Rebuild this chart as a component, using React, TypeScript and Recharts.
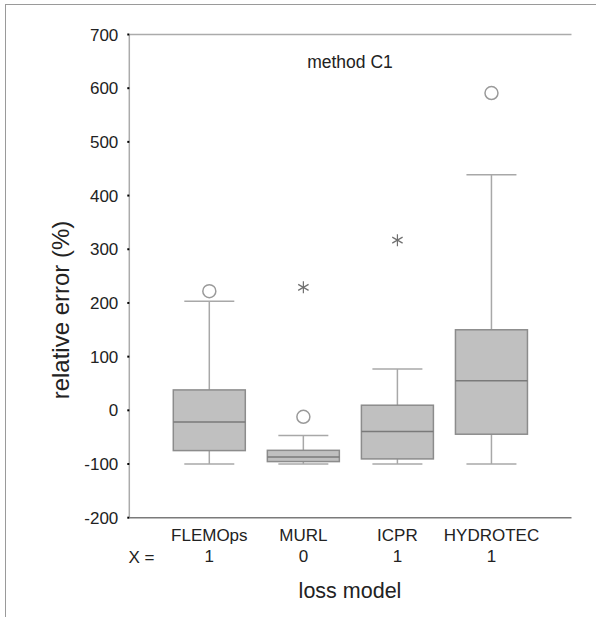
import React from 'react';
import {
  ComposedChart,
  Bar,
  Scatter,
  XAxis,
  YAxis,
  ReferenceLine
} from 'recharts';

const categories = ['FLEMOps', 'MURL', 'ICPR', 'HYDROTEC'];
const xFlags = ['1', '0', '1', '1'];
const whiskerLow = [-100, -100, -100, -100];
const quartile1 = [-75, -95.5, -90.5, -44.5];
const medians = [-21.6, -87, -39.6, 55];
const quartile3 = [38, -74.5, 9.5, 150];
const whiskerHigh = [203, -47, 77, 439];
const circleOutliers = [222, -12, null, 591];
const starOutliers = [null, 229, 317, null];
const yTicks = [-200, -100, 0, 100, 200, 300, 400, 500, 600, 700];

const FONT = '"Liberation Sans", Arial, sans-serif';

const data = categories.map((name, i) => ({
  name,
  flag: xFlags[i],
  min: whiskerLow[i],
  q1: quartile1[i],
  median: medians[i],
  q3: quartile3[i],
  max: whiskerHigh[i],
  circle: circleOutliers[i],
  star: starOutliers[i]
}));

// whole box plot drawn from the [min, max] range bar geometry
function BoxShape(props: any) {
  const { x, y, width, height, payload } = props;
  const span = payload.max - payload.min;
  const pix = (v: number) => y + ((payload.max - v) / span) * height;
  const cx = x + width / 2;
  const capHalf = 25;
  const yq1 = pix(payload.q1);
  const yq3 = pix(payload.q3);
  return (
    <g>
      <line x1={cx} x2={cx} y1={y} y2={yq3} stroke="#a8a8a8" strokeWidth={1.5} />
      <line x1={cx} x2={cx} y1={yq1} y2={y + height} stroke="#a8a8a8" strokeWidth={1.5} />
      <line x1={cx - capHalf} x2={cx + capHalf} y1={y} y2={y} stroke="#a8a8a8" strokeWidth={1.5} />
      <line x1={cx - capHalf} x2={cx + capHalf} y1={y + height} y2={y + height} stroke="#a8a8a8" strokeWidth={1.5} />
      <rect x={x} y={yq3} width={width} height={yq1 - yq3} fill="#c0c0c0" stroke="#8c8c8c" strokeWidth={1.5} />
      <line x1={x} x2={x + width} y1={pix(payload.median)} y2={pix(payload.median)} stroke="#7a7a7a" strokeWidth={1.5} />
    </g>
  );
}

function CircleShape(props: any) {
  const { cx, cy, payload } = props;
  if (payload == null || payload.circle == null) return <g />;
  return <circle cx={cx} cy={cy} r={6.5} fill="#fff" stroke="#9a9a9a" strokeWidth={1.5} />;
}

function StarShape(props: any) {
  const { cx, cy, payload } = props;
  if (payload == null || payload.star == null) return <g />;
  const r = 6;
  const dx = r * Math.cos(Math.PI / 6);
  const dy = r * Math.sin(Math.PI / 6);
  return (
    <g stroke="#707070" strokeWidth={1.2}>
      <line x1={cx} x2={cx} y1={cy - r} y2={cy + r} />
      <line x1={cx - dx} x2={cx + dx} y1={cy - dy} y2={cy + dy} />
      <line x1={cx - dx} x2={cx + dx} y1={cy + dy} y2={cy - dy} />
    </g>
  );
}

function CategoryTick(props: any) {
  const { x, y, payload, index } = props;
  return (
    <g>
      <text x={x} y={y + 18} textAnchor="middle" dominantBaseline="central" fontSize={17} fontFamily={FONT} fill="#222">
        {payload.value}
      </text>
      <text x={x} y={y + 39} textAnchor="middle" dominantBaseline="central" fontSize={17} fontFamily={FONT} fill="#222">
        {xFlags[index]}
      </text>
    </g>
  );
}

const textStyle: React.CSSProperties = {
  position: 'absolute',
  fontFamily: FONT,
  color: '#222',
  whiteSpace: 'nowrap',
  lineHeight: 1
};

export default function App() {
  return (
    <div style={{ position: 'absolute', left: 0, top: 0, width: 596, height: 617, overflow: 'hidden', background: '#fff' }}>
      <div style={{ position: 'absolute', left: 5, top: 4, width: 800, height: 800, borderTop: '1.5px solid #9a9a9a', borderLeft: '1.5px solid #9a9a9a' }} />
      <ComposedChart
        width={596}
        height={617}
        data={data}
        margin={{ top: 34.5, right: 24.5, bottom: 0, left: 0 }}
        style={{ position: 'absolute', left: 0, top: 0 }}
      >
        <XAxis
          dataKey="name"
          height={99.3}
          padding={{ left: 33, right: 33 }}
          axisLine={{ stroke: '#7a7a7a', strokeWidth: 1.5 }}
          tickLine={false}
          tickSize={0}
          tickMargin={0}
          interval={0}
          tick={<CategoryTick />}
        />
        <YAxis
          width={129.3}
          domain={[-200, 700]}
          ticks={yTicks}
          interval={0}
          allowDataOverflow
          axisLine={{ stroke: '#ababab', strokeWidth: 1.5 }}
          tickLine={{ stroke: '#000', strokeWidth: 2 }}
          tickSize={2}
          tickMargin={9}
          tick={{ fontSize: 17, fontFamily: FONT, fill: '#222' }}
        />
        <YAxis
          yAxisId="right"
          orientation="right"
          width={0}
          domain={[-200, 700]}
          tick={false}
          tickLine={false}
          axisLine={{ stroke: '#ababab', strokeWidth: 1.5 }}
        />
        <ReferenceLine y={700} stroke="#ababab" strokeWidth={1.5} />
        <Bar
          dataKey={(d: any) => [d.min, d.max]}
          barSize={72}
          shape={<BoxShape />}
          isAnimationActive={false}
        />
        <Scatter dataKey="circle" shape={<CircleShape />} isAnimationActive={false} />
        <Scatter dataKey="star" shape={<StarShape />} isAnimationActive={false} />
      </ComposedChart>
      <div style={{ ...textStyle, left: 350, top: 63, transform: 'translate(-50%, -50%)', fontSize: 17.5 }}>method C1</div>
      <div style={{ ...textStyle, left: 141.5, top: 557, transform: 'translate(-50%, -50%)', fontSize: 17 }}>X =</div>
      <div style={{ ...textStyle, left: 350, top: 592, transform: 'translate(-50%, -50%)', fontSize: 21.5 }}>loss model</div>
      <div style={{ ...textStyle, left: 61, top: 310, transform: 'translate(-50%, -50%) rotate(-90deg)', fontSize: 24 }}>relative error (%)</div>
    </div>
  );
}
